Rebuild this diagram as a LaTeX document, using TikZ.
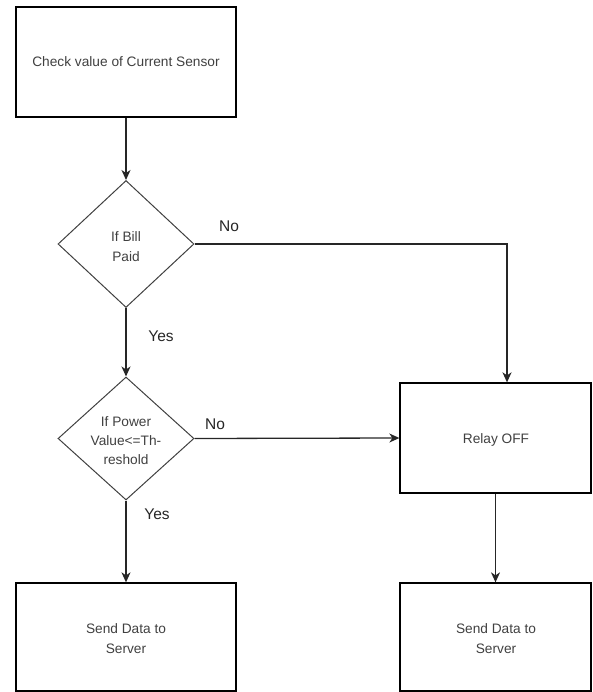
\documentclass[tikz,border=0pt]{standalone}
\usepackage{fontspec}
\setmainfont{Liberation Sans}
\usetikzlibrary{shapes.geometric,arrows.meta}
\begin{document}
\begin{tikzpicture}[x=1pt,y=-1pt,
  boxshape/.style={draw=black, line width=1.3pt, inner sep=0pt},
  dia/.style={draw=black!75, line width=1pt, diamond, inner sep=0pt, aspect=1.07,
    minimum width=136pt, minimum height=127pt},
  boxtext/.style={text=black!75, align=center, font=\fontsize{13.7}{20}\selectfont},
  lbl/.style={text=black!85, font=\fontsize{15.5}{18}\selectfont, inner sep=0pt},
  conn/.style={draw=black!85, line width=1.3pt},
  arr/.style={conn, -{Stealth[length=10pt,width=9pt,inset=3pt]}}
]
\useasboundingbox (0,0) rectangle (592,692);
% boxes
\node[boxshape, minimum width=220pt, minimum height=110pt] (top) at (126,62) {};
\node[boxtext] (toptext) at (126,62) {Check value of Current Sensor};
\node[dia] (d1) at (126,244) {};
\node[boxtext] (d1text) at (126,247) {If Bill\\Paid};
\node[dia, minimum height=123pt, aspect=1.1] (d2) at (126,438.5) {};
\node[boxtext, font=\fontsize{13.7}{19}\selectfont] (d2text) at (126,441) {If Power\\Value<=Th-\\reshold};
\node[boxshape, minimum width=191pt, minimum height=110pt] (relay) at (495.5,438) {};
\node[boxtext] (relaytext) at (496,440) {Relay OFF};
\node[boxshape, minimum width=220pt, minimum height=108pt] (sendl) at (126,637) {};
\node[boxtext] (sendltext) at (126,639) {Send Data to\\Server};
\node[boxshape, minimum width=191pt, minimum height=108pt] (sendr) at (495.5,637) {};
\node[boxtext] (sendrtext) at (496,639) {Send Data to\\Server};
% connectors
\coordinate (c1) at (507,244);
\draw[arr] (top.south) -- (d1.north);
\draw[arr] (d1.south) -- (d2.north);
\draw[arr] (d2.south) -- (sendl.north);
\draw[arr] (d1.east) -- (c1) -- (c1 |- relay.north);
\draw[arr] (d2.east) -- (relay.west);
\draw[arr] (relay.south) -- (sendr.north);
% labels
\node[lbl] (no1) at (229,226) {No};
\node[lbl] (yes1) at (161,336) {Yes};
\node[lbl] (no2) at (215,424) {No};
\node[lbl] (yes2) at (157,514) {Yes};
\end{tikzpicture}
\end{document}
